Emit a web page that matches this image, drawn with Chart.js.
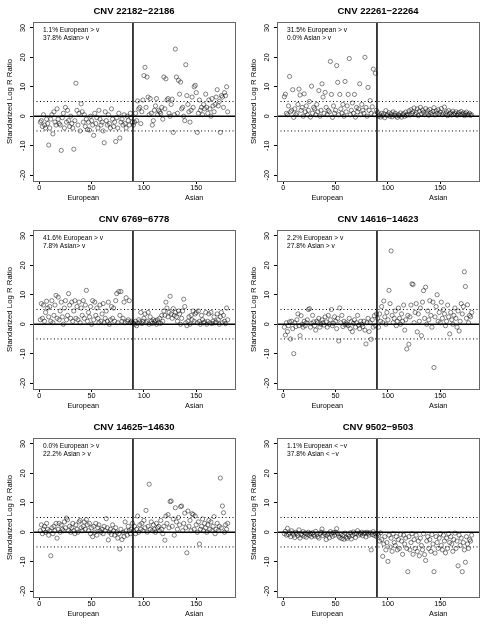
<!DOCTYPE html>
<html>
<head>
<meta charset="utf-8">
<script src="https://cdn.jsdelivr.net/npm/chart.js@4.4.1/dist/chart.umd.min.js"></script>
<style>
  body { margin:0; background:#fff; }
  #grid { display:grid; grid-template-columns:244px 244px; grid-template-rows:208px 208px 208px; width:488px; height:624px; }
  canvas { display:block; }
</style>
</head>
<body>
<div id="grid">
  <canvas id="c0" width="244" height="208"></canvas>
  <canvas id="c1" width="244" height="208"></canvas>
  <canvas id="c2" width="244" height="208"></canvas>
  <canvas id="c3" width="244" height="208"></canvas>
  <canvas id="c4" width="244" height="208"></canvas>
  <canvas id="c5" width="244" height="208"></canvas>
</div>
<script>
// panel titles and the two note lines in each panel
const titles = ['CNV 22182\u221222186', 'CNV 22261\u221222264', 'CNV 6769\u22126778',
                'CNV 14616\u221214623', 'CNV 14625\u221214630', 'CNV 9502\u22129503'];
const notes = [
  ['1.1% European > v', '37.8% Asian> v'],
  ['31.5% European > v', '0.0% Asian > v'],
  ['41.6% European > v', '7.8% Asian> v'],
  ['2.2% European > v', '27.8% Asian > v'],
  ['0.0% European > v', '22.2% Asian > v'],
  ['1.1% European < \u2212v', '37.8% Asian < \u2212v']
];
const groupLabels = ['European', 'Asian'];
const refLevels = [0, 5, -5];   // horizontal reference lines
const splitX = 89.5;            // European | Asian boundary

// standardized log R ratio, European samples (1-89) and Asian samples (90-180)
const eur1 = [-2,-1.5,-3.5,0.5,-3,-4,-1,-2.5,-9.8,-4,
  -1,0.5,-6,1.5,-2,-3,2.5,-1,-2.5,-3,
  -11.6,-0.5,1,-4,3,-2,2,-1.5,-3.5,0,
  -2.5,-4,-11.2,-1.5,11.2,2,-3,1,-5,4.2,
  1.5,-2,0.5,-3.5,-1,-4.5,-2,-4.7,0,-1.5,
  -3,-6.5,1,-2.5,-0.5,-4,2,-1,-3,-2,
  -5,-9,1.5,-1.5,-3,0.5,-2.5,-4,2.5,-1,
  -3.5,-2,-8.6,-0.5,-4,1,-7.4,-2,-1,-3,
  0.5,-2.5,-4,0,-1.5,-3,1,-0.5,-2];
const asn1 = [-3,-2,1,-1.5,5.2,2.5,3,-2.5,1.5,5.5,
  13.8,16.6,3,13.3,6.5,0.5,6,1,-3,-1.5,
  2,3.5,6,0.5,2,1.5,1,3,-1,13.3,
  2.5,12.7,5.5,6,1,0,4,5.8,-5.5,0.5,
  22.8,13.3,1,12.2,7.5,11.6,2.5,3,0,-1.5,
  17.5,7,4,1.5,-2,2,6.5,3,10,10.5,
  8,-5.5,1,5.5,2,3,0.5,4,2.5,7.5,
  3,1,5.5,2.5,0,6,3.5,1.5,4,6.5,
  9,3.5,5,-5.5,7,6.5,3,8,7,10,
  1.5];

const eur2 = [6.6,7.5,1,0.5,3.5,13.5,1.5,2,9,-0.4,
  2.5,0.5,1,4,9.2,7.2,2,3,0,7.6,
  1.5,3.5,0.5,2,5,-0.3,10.2,1,3,2.5,
  0.5,4,1.5,8.7,0,2,11,6.5,1,8.1,
  3,0.5,2,1.5,18.6,7.4,-0.4,3.5,1,2,
  17.2,11.5,0.5,7.4,2.5,1,4,0,11.8,1.5,
  3.5,7.4,19.6,0.5,2,4.5,1,7.4,-0.3,3,
  1.5,2.5,11,0.5,4,2,1,20,3,0,
  9.8,2,5.3,1,3.2,16,0.5,14.6,2];
const asn2 = [1.3,0,0.5,-0.3,1,0.2,0.8,-0.5,1.9,0.3,
  0.5,1.2,0,0.8,-0.2,1.5,0.4,1,0.1,-0.4,
  0.6,0.2,1.1,-0.3,0.5,0.9,0,1.4,0.3,0.7,
  1.8,0.4,2.2,0.9,1.5,2.8,0.6,1.2,2.5,0.2,
  1.7,3,0.8,2.1,1.3,0.5,2.6,1,1.9,0.3,
  2.3,1.2,0.6,1.6,2.9,0.4,1.8,1,2.2,0.7,
  1.4,2.6,0.5,1.1,3.1,0.8,1.5,0.2,1.9,0.9,
  1.2,0.4,1.7,0.6,1,1.5,0.3,0.8,1.3,0.5,
  1.6,0.7,1.1,0.2,0.9,1.4,0.4,0.6,1,0.3,
  0.5];

const eur3 = [1.5,7,2,6.5,1,4,7.8,5.5,2.5,6,
  1,8,0.5,3,6.5,9.8,2,9.2,1.5,4.5,
  7.5,2.5,0,5.5,8,1.5,3,10.4,6.5,2,
  7.5,1,4.5,8,2,6,1.5,7.5,0.5,5.5,
  3,8,2,6.5,11.5,1,4,2.5,6,0,
  8,1.5,7.5,3,5.5,2,0.5,6.5,1,3.5,
  7,0.5,2,4.5,1,7.5,0,1.5,6,2,
  5.5,1,8,10.4,0.5,11.1,3,11.1,1,2,
  7.5,0.5,9,1,1.5,8,0.5,1,0.5];
const asn3 = [0.5,0,1,-0.5,0.3,1.5,0.8,4,0.2,1,
  2,3.5,0.5,1,4,0,2.5,1,0.3,1.5,
  0.8,1.2,0,1.5,0.5,2,0.3,3,1,4.5,
  3,7.5,5.5,2.5,4,9.5,3.5,2,5.3,3,
  4,2.5,1,4.5,3.5,0,2,4.5,8.5,6,
  0.5,-0.5,1,2.5,0,3,1.5,4.5,1,3.5,
  4,0.5,4.5,1,0,3,1.5,0.5,0.8,4,
  0,1,3.5,0.5,4,0.2,1,2.5,0.5,0.8,
  3.5,1.5,0,2.5,4,0.5,3,1,0.2,5.5,
  1.5];

const eur4 = [-1,-3.7,0.5,-2.5,-0.5,0.8,-5,1,-1.5,-10,
  0.5,-0.8,1.5,3.5,-0.5,-3.9,2.9,0,-1,1,
  -0.5,0.5,1.5,5,5.3,-1,0.3,3,0.8,-0.5,
  -2,1,0.5,2,-1,0,1.5,0.5,-0.3,2.5,
  0.8,-1,3,0,1.5,5,-0.5,0.3,2.5,1,
  -1.5,2,-5.7,5.5,0.5,3,-0.8,1,-0.2,0.5,
  0,-0.5,2,-1.5,0.8,-2.5,0.3,1.5,-1,0.5,
  3,-0.3,-1.5,1,0,-0.8,1,-2,-6.7,0.5,
  2,-2.5,0.5,-5.1,1.5,-1,2.9,-0.5,3.5];
const asn4 = [2,-1,3.5,1,6,0.5,7.9,2.5,0,4,
  1.5,11.5,7,24.9,3,0.5,2,4.5,-0.5,1,
  5.5,2,0,3.5,1,6.5,-2,1.5,-8.4,3,
  -6.8,2.5,6.5,13.7,13.5,0.5,4,7,-2.6,3.5,
  1,5.5,-3.9,7.5,11.4,2,12.6,0,4.5,1.5,
  8,3,-1,7.5,-14.7,2.5,6,10,1,4,
  0.5,7.5,2,5,3.5,-0.5,1,6.5,2.5,-3.3,
  4,1.5,0,3,5.5,2,-1,4.5,-2.3,1,
  7,3.5,6,17.8,12.8,2,6.6,0.5,3,2.5,
  4];

const eur5 = [0.5,2.5,-0.5,1,2,0,3,1,-1,0.5,
  -8,1.5,-0.5,2,0.5,3,-2,1,3,0,
  2.5,1,0.5,3.5,1.5,4.8,4.2,0.5,2,0,
  1.5,3,0.5,-0.5,2.5,1,0,3.5,4,1.5,
  0.5,2,3.5,1,4.3,2.5,0.5,3,-0.5,1.5,
  -1.5,2,0,3,-1,1.5,2.5,0.5,0,1,
  -0.5,2,0.5,4.6,1.5,-2.6,0,1,-0.8,2.5,
  0.5,-1,1.5,0,-2,-0.5,-5.7,1,-2.5,0,
  -1.5,3.5,0.5,-1,2,0.5,-0.5,1,3];
const asn5 = [0.5,2,-0.5,1,5.5,0,2.5,1,3,0.5,
  4,1.5,7.4,0,2,16.3,1,3.5,0.5,2.5,
  1,0,3,1.5,2,0.5,4,1,-0.5,2,
  -2.7,5.5,3,6,1.5,10.4,10.6,2,4.5,-1,
  8.3,3.5,1,5,2.5,8.7,8.9,0.5,3,6.5,
  1.5,-7,7.2,2,4,0.5,6.3,6,1,5.5,
  2.5,0,3.5,-4,1,2,4.5,0.5,3,1.5,
  0,2.5,4,1,3.5,0.5,2,5.3,-0.5,1,
  3,0.5,2,18.4,1.5,8.9,6.6,0,2.5,1,
  3];

const eur6 = [-0.5,0.3,-1,1.3,-0.8,-0.2,-1.5,0.5,-0.3,-1,
  -1.8,0,-0.5,-1.2,0.8,-2,-0.6,-1,0.2,-1.4,
  -0.3,-1.7,-0.8,0,-1.1,-0.4,-1.6,-0.2,-0.9,-1.3,
  0.3,-0.7,-1.5,-2,-0.5,0,1.1,-1.2,-0.3,-0.8,
  -2.5,-1,-0.4,-1.9,0.2,-0.6,-1.4,-0.1,-1,0,
  1.2,-0.5,-1.3,-1.8,-0.7,-2.2,-1,-2.4,-0.3,-1.7,
  -2.1,-0.9,-1.5,-0.2,-2.3,-1.1,0.1,-0.6,-1.8,-0.4,
  0.5,-1,-0.3,-0.7,0,-1.2,-0.5,-0.2,-1.6,0,
  -0.4,-1,-0.2,-6,-0.8,0.2,-1.1,-0.5,-1.5];
const asn6 = [-0.5,-1,-3,-0.2,-2.5,-8.2,-4,-1.5,-6,-3.5,
  -9.9,-1,-5,-2,-6.5,-0.5,-3.5,-4.5,-1.5,-6,
  -2.5,-5.5,-0.8,-3,-7.5,-1,-4,-2,-5.5,-13.4,
  -1.5,-6,-3.5,-0.5,-7.5,-2.5,-5.5,-1,-6.5,-3,
  -8,-2,-4.5,-6,-0.5,-7.6,-9.6,-3,-1.5,-5.5,
  -2.5,-6.5,-0.8,-4,-13.4,-7.1,-1.5,-3.5,-5.5,-2,
  -0.5,-4.5,-6,-1,-3,-7,-2,-5.5,-0.5,-3.5,
  -1.5,-4,-6.5,-2.5,-0.3,-5.5,-3,-11.4,-1,-4.5,
  -2,-13.4,-3.5,-6,-10.2,-1.5,-4,-5.5,-2.5,-3,
  -1];

const europeans = [eur1, eur2, eur3, eur4, eur5, eur6];
const asians = [asn1, asn2, asn3, asn4, asn5, asn6];

var X_MIN = -6, X_MAX = 187, Y_MIN = -22, Y_MAX = 32;
var FONT = '"Liberation Sans", Arial, Helvetica, sans-serif';

function toPoints(eur, asn){
    var pts = eur.map(function(v, i){ return {x: i + 1, y: v}; });
    return pts.concat(asn.map(function(v, i){ return {x: eur.length + 1 + i, y: v}; }));
}

// box, title, notes, group names, rotated y labels
var panelDeco = {
    id: 'panelDeco',
    afterDraw: function(chart, args, opts){
        var ctx = chart.ctx, a = chart.chartArea, xs = chart.scales.x, ys = chart.scales.y;
        ctx.save();
        ctx.strokeStyle = '#666';
        ctx.lineWidth = 1;
        ctx.strokeRect(Math.round(a.left) + 0.5, Math.round(a.top) + 0.5,
                       Math.round(a.right - a.left), Math.round(a.bottom - a.top));

        ctx.fillStyle = '#000';
        ctx.textAlign = 'center';
        ctx.textBaseline = 'middle';
        ctx.font = 'bold 9.5px ' + FONT;
        ctx.fillText(opts.title, (a.left + a.right) / 2, 11);

        ctx.font = '6.6px ' + FONT;
        ctx.textAlign = 'left';
        opts.notes.forEach(function(t, i){ ctx.fillText(t, a.left + 10, 30 + i * 7.7); });

        ctx.font = '7.3px ' + FONT;
        ctx.textAlign = 'center';
        ctx.fillText(groupLabels[0], xs.getPixelForValue(42), 198);
        ctx.fillText(groupLabels[1], xs.getPixelForValue(148), 198);

        ys.ticks.forEach(function(t){
            ctx.save();
            ctx.translate(23, ys.getPixelForValue(t.value));
            ctx.rotate(-Math.PI / 2);
            ctx.fillText(String(t.value), 0, 0);
            ctx.restore();
        });

        ctx.font = '7.8px ' + FONT;
        ctx.save();
        ctx.translate(10, (a.top + a.bottom) / 2);
        ctx.rotate(-Math.PI / 2);
        ctx.fillText('Standarized Log R Ratio', 0, 0);
        ctx.restore();
        ctx.restore();
    }
};

function makeChart(k){
    var datasets = [{
        data: toPoints(europeans[k], asians[k]),
        pointStyle: 'circle',
        pointRadius: 2.1,
        borderColor: 'rgba(0,0,0,0.75)',
        backgroundColor: 'rgba(0,0,0,0)',
        pointBorderWidth: 0.65
    }];
    refLevels.forEach(function(lv){
        datasets.push({
            data: [{x: X_MIN, y: lv}, {x: X_MAX, y: lv}],
            showLine: true,
            pointRadius: 0,
            borderColor: '#000',
            borderWidth: lv === 0 ? 1.5 : 1,
            borderDash: lv === 0 ? [] : [1, 2.5]
        });
    });
    datasets.push({
        data: [{x: splitX, y: Y_MIN}, {x: splitX, y: Y_MAX}],
        showLine: true,
        pointRadius: 0,
        borderColor: '#000',
        borderWidth: 1.5
    });

    var tickFont = {family: FONT, size: 7.3};
    new Chart(document.getElementById('c' + k).getContext('2d'), {
        type: 'scatter',
        data: {datasets: datasets},
        options: {
            responsive: false,
            animation: false,
            events: [],
            layout: {padding: {top: 22, right: 9, left: 0, bottom: 0}},
            plugins: {
                legend: {display: false},
                tooltip: {enabled: false},
                panelDeco: {title: titles[k], notes: notes[k]}
            },
            scales: {
                x: {
                    type: 'linear', min: X_MIN, max: X_MAX,
                    ticks: {stepSize: 50, includeBounds: false, color: '#000', font: tickFont, padding: 0, maxRotation: 0},
                    grid: {display: true, drawOnChartArea: false, drawTicks: true, tickLength: 3, color: '#000'},
                    border: {display: false},
                    afterFit: function(s){ s.height = 27; }
                },
                y: {
                    type: 'linear', min: Y_MIN, max: Y_MAX,
                    ticks: {stepSize: 10, includeBounds: false, display: false},
                    grid: {display: true, drawOnChartArea: false, drawTicks: true, tickLength: 3, color: '#000'},
                    border: {display: false},
                    afterFit: function(s){ s.width = 33; }
                }
            }
        },
        plugins: [panelDeco]
    });
}

for (var k = 0; k < 6; k++) makeChart(k);
</script>
</body>
</html>
